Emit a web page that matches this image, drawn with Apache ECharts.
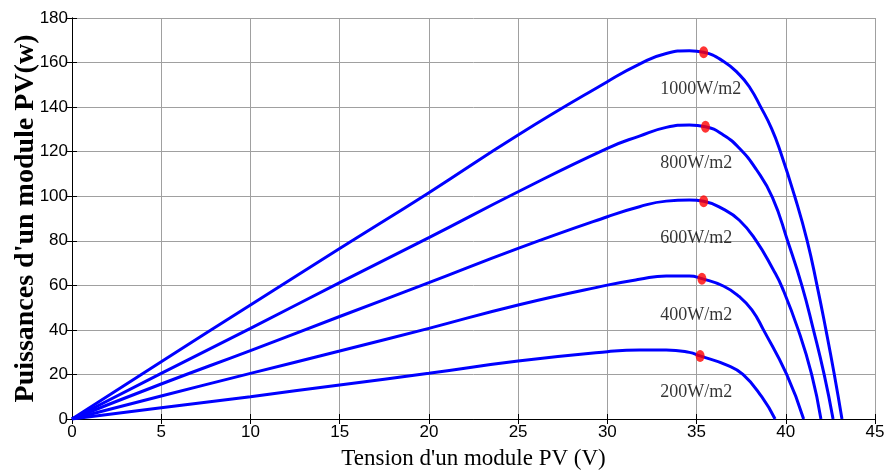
<!DOCTYPE html>
<html>
<head>
<meta charset="utf-8">
<title>Puissance PV</title>
<script src="https://cdn.jsdelivr.net/npm/echarts@6/dist/echarts.min.js"></script>
<style>
    html, body {margin: 0; padding: 0; background: #fff;}
    #main {width: 887px; height: 473px;}
</style>
</head>
<body>
<div id="main"></div>
<script>
// courbes P-V : [tension (V), puissance (W)]
let p1000 = [[0, 0], [5, 25.7], [10, 51.2], [15, 76.5], [20, 101.6], [25, 127.5], [30, 151.4],
    [31.8, 159.3], [33.3, 164.1], [34.6, 165.3], [35.4, 164.6], [36.5, 160.6], [37.4, 154.6], [38, 148.6],
    [38.6, 140], [39.2, 130.5], [39.7, 120], [40.5, 100], [41.2, 80], [41.75, 60], [42.25, 40], [42.72, 20], [43.15, 0]];
let p800 = [[0, 0], [5, 20.5], [10, 40.7], [15, 61.2], [20, 81.4], [25, 102], [30, 121.5],
    [31.8, 127], [33.3, 130.9], [34.6, 132], [35.5, 131.2], [36.5, 127.5], [37.4, 121.5], [38.35, 112],
    [39.25, 99.5], [40.1, 80], [40.9, 60], [41.55, 40], [42.15, 20], [42.65, 0]];
let p600 = [[0, 0], [5, 15.7], [10, 30.7], [15, 46], [20, 61.2], [25, 76.6], [30, 90.8],
    [31.8, 95.3], [33.3, 97.8], [34.6, 98.3], [35.4, 97.7], [36.5, 94.2], [37.4, 89.2], [38.3, 80.5],
    [39.3, 67], [39.8, 59], [40.7, 40], [41.45, 20], [41.97, 0]];
let p400 = [[0, 0], [5, 10.3], [10, 20.5], [15, 30.5], [20, 40.7], [25, 51.2], [30, 60.1],
    [31.8, 62.7], [33.3, 64.2], [34.6, 64.2], [35.3, 63], [36.5, 59.7], [37.4, 54.9], [38.1, 49],
    [38.75, 40], [40.05, 20], [41, 0]];
let p200 = [[0, 0], [5, 5], [10, 10], [15, 15.3], [20, 20.5], [25, 26], [30, 30.2],
    [31.8, 31], [33.3, 31], [34.6, 29.9], [35.2, 28.3], [36.7, 24.2], [37.6, 20],
    [38.65, 10], [39.4, 0]];

// points de puissance maximale + eclairements
let mppPoints = [[35.4, 164.6], [35.5, 131.2], [35.4, 97.7], [35.3, 63], [35.2, 28.3]];
let mppLabels = ['1000W/m2', '800W/m2', '600W/m2', '400W/m2', '200W/m2'];

let xTicks = {min: 0, max: 45, interval: 5};
let yTicks = {min: 0, max: 180, interval: 20};

let labelLeftV = 33; // bord gauche des etiquettes, en volts

let myChart = echarts.init(document.getElementById('main'));

function curve(data){
    return {
        type: 'line',
        data: data,
        showSymbol: false,
        smooth: 0.5,
        lineStyle: {color: '#0000ff', width: 3},
        silent: true,
        z: 2
    };
}

let tickFont = {fontFamily: 'Liberation Sans', fontSize: 17, color: '#000'};
let axisLineStyle = {show: true, lineStyle: {color: '#000', width: 1}};
let insideTick = {show: true, inside: true, length: 5, lineStyle: {color: '#000'}};

let option = {
    animation: false,
    backgroundColor: '#fff',
    grid: {left: 72, right: 12, top: 18, bottom: 54, outerBoundsMode: 'none'},
    xAxis: [
        {
            type: 'value',
            min: xTicks.min, max: xTicks.max, interval: xTicks.interval,
            name: "Tension d'un module PV (V)",
            nameLocation: 'middle',
            nameGap: 28,
            nameMoveOverlap: false,
            nameTextStyle: {fontFamily: 'Liberation Serif', fontSize: 23, color: '#000'},
            axisLine: axisLineStyle,
            axisTick: insideTick,
            axisLabel: Object.assign({margin: 5}, tickFont),
            splitLine: {show: true, lineStyle: {color: '#a0a0a0', width: 1}}
        },
        {
            type: 'value', position: 'top',
            min: xTicks.min, max: xTicks.max, interval: xTicks.interval,
            axisLine: axisLineStyle,
            axisTick: insideTick,
            axisLabel: {show: false},
            splitLine: {show: false}
        }
    ],
    yAxis: [
        {
            type: 'value',
            min: yTicks.min, max: yTicks.max, interval: yTicks.interval,
            name: "Puissances d'un module PV(w)",
            nameLocation: 'middle',
            nameGap: 32,
            nameMoveOverlap: false,
            nameTextStyle: {fontFamily: 'Liberation Serif', fontWeight: 'bold', fontSize: 28, color: '#000'},
            axisLine: axisLineStyle,
            axisTick: insideTick,
            axisLabel: Object.assign({margin: 4}, tickFont),
            splitLine: {show: true, lineStyle: {color: '#a0a0a0', width: 1}}
        },
        {
            type: 'value', position: 'right',
            min: yTicks.min, max: yTicks.max, interval: yTicks.interval,
            axisLine: axisLineStyle,
            axisTick: insideTick,
            axisLabel: {show: false},
            splitLine: {show: false}
        }
    ],
    series: [
        curve(p1000),
        curve(p800),
        curve(p600),
        curve(p400),
        curve(p200),
        {
            type: 'scatter',
            data: mppPoints,
            symbol: 'circle',
            symbolSize: [9, 12],
            itemStyle: {color: '#ff0000'},
            silent: true,
            z: 5
        },
        {
            // etiquettes sous chaque point MPP
            type: 'scatter',
            data: mppPoints.map(function(p, i){
                return {value: [labelLeftV, p[1]], name: mppLabels[i]};
            }),
            symbolSize: 1,
            itemStyle: {color: 'rgba(0,0,0,0)'},
            label: {
                show: true,
                position: [0, 37],
                align: 'left',
                verticalAlign: 'middle',
                formatter: '{b}',
                fontFamily: 'Liberation Serif',
                fontSize: 18,
                color: '#000'
            },
            silent: true,
            z: 6
        }
    ]
};

myChart.setOption(option);
</script>
</body>
</html>
